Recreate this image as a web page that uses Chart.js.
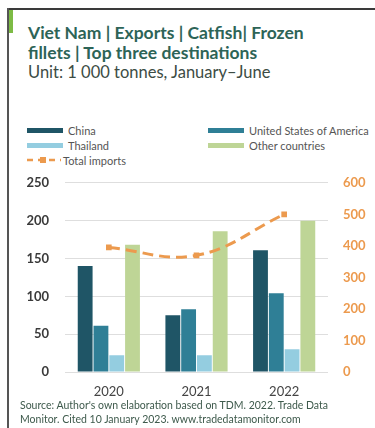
<!DOCTYPE html>
<html>
<head>
<meta charset="utf-8">
<script src="https://cdn.jsdelivr.net/npm/chart.js@4.4.1/dist/chart.umd.min.js"></script>
<style>
  html, body { margin: 0; padding: 0; background: #fff; }
  body { width: 375px; height: 428px; position: relative; overflow: hidden; font-family: Lato, "Open Sans", sans-serif; }
  .frame-top { position: absolute; left: 8px; top: 8px; right: 0; height: 2px; background: #3a3a3a; }
  .frame-left { position: absolute; left: 7px; top: 8px; bottom: 0; width: 2px; background: #555; }
  .accent { position: absolute; left: 9px; top: 10px; width: 4px; height: 23px; background: #7dbb45; }
  .title { position: absolute; left: 28px; top: 23px; font-weight: 700; font-size: 17.5px; line-height: 19.5px; color: #2d6457; white-space: nowrap; }
  .subtitle { position: absolute; left: 28px; top: 62px; font-size: 16.5px; line-height: 20px; color: #3c4c44; white-space: nowrap; }
  .legend { position: absolute; left: 0; top: 123px; width: 375px; height: 46px; font-size: 11px; color: #555; }
  .legend .item { position: absolute; display: flex; align-items: center; height: 14px; white-space: nowrap; }
  .legend .sw { width: 36px; height: 5px; margin-right: 5px; }
  .source { position: absolute; left: 20px; top: 398px; font-size: 10.5px; line-height: 14px; color: #3e5a4c; white-space: nowrap; }
  #wrap { position: absolute; left: 0; top: 159px; width: 375px; height: 241px; }
  #chart { display: block; }
</style>
</head>
<body>
<div class="frame-top"></div>
<div class="frame-left"></div>
<div class="accent"></div>
<div class="title">Viet Nam | Exports | Catfish| Frozen<br>fillets | Top three destinations</div>
<div class="subtitle">Unit: 1 000 tonnes, January–June</div>
<div class="legend" id="legend"></div>
<div id="wrap"><canvas id="chart" width="375" height="241"></canvas></div>
<div class="source">Source: Author's own elaboration based on TDM. 2022. Trade Data<br>Monitor. Cited 10 January 2023. www.tradedatamonitor.com</div>

<script>
// Exports of frozen catfish fillets, thousand tonnes, January–June
const years = ['2020', '2021', '2022'];
const china = [140, 75, 161];
const usa = [61, 83, 104];
const thailand = [22, 22, 30];
const otherCountries = [168, 186, 200];
const totalImports = [395, 370, 500];

const leftTicks = [0, 50, 100, 150, 200, 250];
const rightTicks = [0, 100, 200, 300, 400, 500, 600];

const colors = {
  china: '#1f5566',
  usa: '#2f7f96',
  thailand: '#94cde0',
  other: '#bed596',
  total: '#ec9a4e'
};

const barCommon = { type: 'bar', yAxisID: 'y', categoryPercentage: 0.72, barPercentage: 0.94, order: 2 };

const datasets = [
  Object.assign({ label: 'China', data: china, backgroundColor: colors.china }, barCommon),
  Object.assign({ label: 'United States of America', data: usa, backgroundColor: colors.usa }, barCommon),
  Object.assign({ label: 'Thailand', data: thailand, backgroundColor: colors.thailand }, barCommon),
  Object.assign({ label: 'Other countries', data: otherCountries, backgroundColor: colors.other }, barCommon),
  {
    type: 'line', label: 'Total imports', data: totalImports, yAxisID: 'y1', order: 1,
    borderColor: colors.total, backgroundColor: colors.total, borderWidth: 3,
    borderDash: [11, 6], tension: 0.4, pointStyle: 'rect', pointRadius: 4,
    pointBorderWidth: 0, fill: false
  }
];

// HTML legend: two columns, line series on its own row
const legendPos = [
  { left: 27, top: 0 }, { left: 208, top: 0 },
  { left: 27, top: 15 }, { left: 208, top: 15 },
  { left: 27, top: 30 }
];
const legendEl = document.getElementById('legend');
datasets.forEach((ds, i) => {
  const item = document.createElement('div');
  item.className = 'item';
  item.style.left = legendPos[i].left + 'px';
  item.style.top = legendPos[i].top + 'px';
  if (ds.type === 'line') {
    item.innerHTML = '<svg width="34" height="10" style="margin-right:2px"><line x1="0" y1="5" x2="34" y2="5" stroke="' + ds.borderColor +
      '" stroke-width="2.5" stroke-dasharray="6 5"/><rect x="13" y="2" width="6" height="6" fill="' + ds.borderColor + '"/></svg>';
  } else {
    item.innerHTML = '<span class="sw" style="background:' + ds.backgroundColor + '"></span>';
  }
  item.appendChild(document.createTextNode(ds.label));
  legendEl.appendChild(item);
});

new Chart(document.getElementById('chart'), {
  data: { labels: years, datasets: datasets },
  options: {
    responsive: false,
    animation: false,
    layout: { padding: { top: 8, left: 0, right: 0, bottom: 0 } },
    plugins: { legend: { display: false }, tooltip: { enabled: false } },
    scales: {
      x: {
        grid: { display: false, drawTicks: false },
        border: { display: false },
        ticks: { color: '#444', font: { family: 'Lato', size: 13 }, padding: 12 },
        afterFit: s => { s.height = 28; }
      },
      y: {
        position: 'left', min: 0, max: 250,
        afterBuildTicks: s => { s.ticks = leftTicks.map(v => ({ value: v })); },
        grid: { color: '#dedede', drawTicks: false, lineWidth: 1 },
        border: { display: false },
        ticks: { color: '#3a3a3a', font: { family: 'Lato', size: 13, weight: 'bold' }, padding: 16 },
        afterFit: s => { s.width = 65; }
      },
      y1: {
        position: 'right', min: 0, max: 600,
        afterBuildTicks: s => { s.ticks = rightTicks.map(v => ({ value: v })); },
        grid: { display: false, drawTicks: false },
        border: { display: false },
        ticks: { color: colors.total, font: { family: 'Lato', size: 13, weight: 'bold' }, padding: 15 },
        afterFit: s => { s.width = 47; }
      }
    }
  }
});
</script>
</body>
</html>
